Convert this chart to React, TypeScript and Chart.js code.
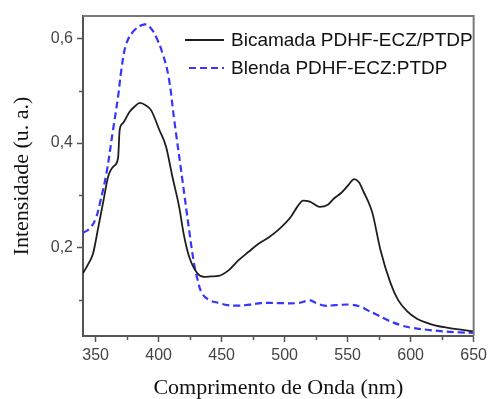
import React, { useEffect, useRef } from 'react';
import { Chart, registerables } from 'chart.js';

Chart.register(...registerables);

// ---- data ----
const seriesLabels = ['Bicamada PDHF-ECZ/PTDP', 'Blenda PDHF-ECZ:PTDP'];
const xTitle = 'Comprimento de Onda (nm)';
const yTitle = 'Intensidade (u. a.)';

const bicamadaWl = [340, 344, 348, 352, 356, 360, 364, 367.8, 369.1, 371.7, 377, 381, 385, 390, 394, 400.6, 405.9, 411, 416.3, 420, 424.2, 430.7, 436, 442, 447.8, 455.7, 463, 471.4, 479, 487, 495, 505, 510, 514.7, 520, 527.8, 534.3, 539.6, 544.6, 550, 555.3, 559, 563.2, 566, 569.7, 576, 583.9, 590, 597.3, 605, 613, 620, 628.7, 640, 650];
const bicamadaInt = [0.151, 0.168, 0.189, 0.237, 0.287, 0.336, 0.355, 0.371, 0.425, 0.438, 0.460, 0.470, 0.477, 0.472, 0.463, 0.425, 0.393, 0.335, 0.278, 0.225, 0.183, 0.151, 0.144, 0.145, 0.146, 0.157, 0.175, 0.192, 0.207, 0.219, 0.234, 0.259, 0.278, 0.290, 0.288, 0.278, 0.282, 0.295, 0.304, 0.318, 0.331, 0.325, 0.304, 0.290, 0.266, 0.196, 0.133, 0.100, 0.078, 0.064, 0.056, 0.051, 0.047, 0.043, 0.040];

const blendaWl = [340, 345.5, 350, 353.4, 358.6, 363.8, 367.8, 370.4, 374.4, 380.9, 388.8, 393, 398, 403.2, 407.9, 412.4, 418.9, 424.2, 428.1, 431, 434.4, 440, 447.8, 455, 463.5, 472, 481.6, 495, 510.7, 519.9, 525, 531.7, 540, 552.4, 560.3, 566, 573.7, 582, 591.8, 600, 613, 625, 639, 650];
const blendaInt = [0.228, 0.237, 0.255, 0.285, 0.342, 0.425, 0.488, 0.539, 0.590, 0.616, 0.627, 0.622, 0.603, 0.571, 0.527, 0.444, 0.329, 0.234, 0.170, 0.138, 0.113, 0.100, 0.094, 0.090, 0.089, 0.091, 0.094, 0.094, 0.094, 0.099, 0.094, 0.089, 0.090, 0.091, 0.087, 0.080, 0.071, 0.061, 0.052, 0.047, 0.043, 0.040, 0.038, 0.037];

const xMajorTicks = [350, 400, 450, 500, 550, 600, 650];
const xMinorTicks = [375, 425, 475, 525, 575, 625];
const yMajorTicks = [0.2, 0.4, 0.6];
const yMinorTicks = [0.1, 0.3, 0.5];
const X_MIN = 340;
const X_MAX = 650;
const Y_MIN = 0.031;
const Y_MAX = 0.643;

const BLACK = '#1e1e1e';
const BLUE = '#3535ff';
const AXIS = '#555555';

const framePlugin = {
  id: 'frameAndLegend',
  afterDraw(chart: any) {
    const { ctx, chartArea, scales } = chart;
    const { left, right, top, bottom } = chartArea;
    const x = scales.x;
    const y = scales.y;
    ctx.save();
    // top/right frame
    ctx.strokeStyle = '#7a7a7a';
    ctx.lineWidth = 2;
    ctx.beginPath();
    ctx.moveTo(left, top);
    ctx.lineTo(right, top);
    ctx.lineTo(right, bottom);
    ctx.stroke();
    // minor ticks
    ctx.strokeStyle = AXIS;
    ctx.lineWidth = 1.5;
    xMinorTicks.forEach((v) => {
      const px = Math.round(x.getPixelForValue(v)) + 0.5;
      ctx.beginPath();
      ctx.moveTo(px, bottom);
      ctx.lineTo(px, bottom + 4);
      ctx.stroke();
    });
    yMinorTicks.forEach((v) => {
      const py = Math.round(y.getPixelForValue(v)) + 0.5;
      ctx.beginPath();
      ctx.moveTo(left, py);
      ctx.lineTo(left - 4, py);
      ctx.stroke();
    });
    // legend
    const ds = chart.data.datasets;
    const rows = [
      { y: 40, x0: 185, x1: 224 },
      { y: 68, x0: 189, x1: 224 },
    ];
    ctx.font = '19px "Liberation Sans", Arial, sans-serif';
    ctx.textBaseline = 'middle';
    ctx.textAlign = 'left';
    ds.forEach((d: any, i: number) => {
      const r = rows[i];
      ctx.strokeStyle = d.borderColor;
      ctx.lineWidth = d.borderWidth;
      ctx.setLineDash(d.borderDash || []);
      ctx.beginPath();
      ctx.moveTo(r.x0, r.y);
      ctx.lineTo(r.x1, r.y);
      ctx.stroke();
      ctx.setLineDash([]);
      ctx.fillStyle = '#111';
      ctx.fillText(d.label, 231, r.y + 1);
    });
    ctx.restore();
  },
};

export default function App() {
  const ref = useRef<HTMLCanvasElement | null>(null);
  useEffect(() => {
    if (!ref.current) return;
    const chart = new Chart(ref.current, {
      type: 'line',
      data: {
        datasets: [
          {
            label: seriesLabels[0],
            data: bicamadaWl.map((w, i) => ({ x: w, y: bicamadaInt[i] })),
            borderColor: BLACK,
            borderWidth: 1.8,
            pointRadius: 0,
            cubicInterpolationMode: 'monotone',
            fill: false,
          },
          {
            label: seriesLabels[1],
            data: blendaWl.map((w, i) => ({ x: w, y: blendaInt[i] })),
            borderColor: BLUE,
            borderWidth: 2.2,
            borderDash: [7, 4],
            pointRadius: 0,
            tension: 0.4,
            fill: false,
          },
        ],
      },
      options: {
        responsive: false,
        animation: false,
        layout: { padding: { top: 16, right: 14, left: 0, bottom: 0 } },
        plugins: { legend: { display: false }, tooltip: { enabled: false } },
        scales: {
          x: {
            type: 'linear',
            min: X_MIN,
            max: X_MAX,
            afterBuildTicks: (s: any) => {
              s.ticks = xMajorTicks.map((v) => ({ value: v }));
            },
            afterFit: (s: any) => {
              s.height = 63;
            },
            ticks: {
              autoSkip: false,
              maxRotation: 0,
              padding: 4,
              color: '#444',
              font: { family: '"Liberation Sans", Arial, sans-serif', size: 16 },
              callback: (v: any) => String(v),
            },
            grid: { drawOnChartArea: false, tickLength: 6, color: AXIS, tickWidth: 1.5 },
            border: { color: AXIS, width: 2 },
            title: {
              display: true,
              text: xTitle,
              color: '#111',
              font: { family: '"Liberation Serif", "Times New Roman", serif', size: 22, lineHeight: 1 },
              padding: { top: 0, bottom: 0 },
            },
          },
          y: {
            type: 'linear',
            min: Y_MIN,
            max: Y_MAX,
            afterBuildTicks: (s: any) => {
              s.ticks = yMajorTicks.map((v) => ({ value: v }));
            },
            afterFit: (s: any) => {
              s.width = 83;
            },
            ticks: {
              padding: 4,
              color: '#444',
              font: { family: '"Liberation Sans", Arial, sans-serif', size: 16 },
              callback: (v: any) => Number(v).toFixed(1).replace('.', ','),
            },
            grid: { drawOnChartArea: false, tickLength: 6, color: AXIS, tickWidth: 1.5 },
            border: { color: AXIS, width: 2 },
            title: {
              display: true,
              text: yTitle,
              color: '#111',
              font: { family: '"Liberation Serif", "Times New Roman", serif', size: 22, lineHeight: 1 },
              padding: { top: 11, bottom: 0 },
            },
          },
        },
      },
      plugins: [framePlugin],
    } as any);
    return () => chart.destroy();
  }, []);
  return (
    <div style={{ position: 'absolute', left: 0, top: 0, width: 491, height: 399, background: '#fff' }}>
      <canvas ref={ref} width={491} height={399} style={{ display: 'block' }} />
    </div>
  );
}
